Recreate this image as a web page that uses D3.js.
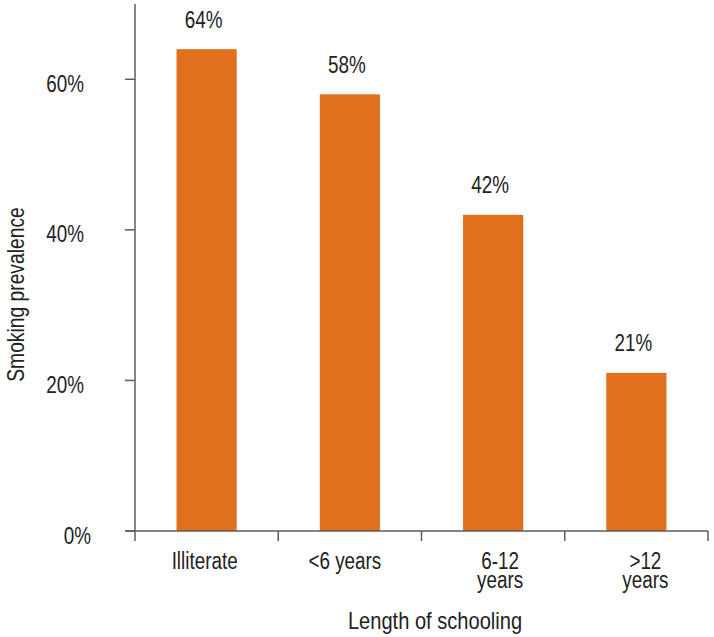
<!DOCTYPE html>
<html>
<head>
<meta charset="utf-8">
<script src="https://cdn.jsdelivr.net/npm/d3@7"></script>
<style>
  html, body { margin: 0; padding: 0; background: #fff; }
  svg { display: block; }
  text { font-family: "Liberation Sans", Arial, Helvetica, sans-serif; fill: #222; }
</style>
</head>
<body>
<svg id="chart" width="714" height="637"></svg>
<script>
// Smoking prevalence by length of schooling
const categories = ["Illiterate", "<6 years", "6-12 years", ">12 years"];
const prevalence = [64, 58, 42, 21];
const categoryLabels = [["Illiterate"], ["<6 years"], ["6-12", "years"], [">12", "years"]];
const yTicks = [0, 20, 40, 60];

const plotLeft = 135, plotRight = 708, plotTop = 4, plotBottom = 531;
const barColor = "#E06F1E";
const axisColor = "#5c5c5c";
const labelShift = [-2, -5, 7, 9];
const narrow = 0.82; // condensed lettering

const svg = d3.select("#chart");

const x = d3.scaleBand().domain(categories).range([plotLeft, plotRight]).padding(0);
const y = d3.scaleLinear().domain([0, 70]).range([plotBottom, plotTop]);
const barW = x.bandwidth() * 0.42;
const center = i => x(categories[i]) + x.bandwidth() / 2;
const place = (px, py) => `translate(${px},${py}) scale(${narrow},1)`;

// bars
svg.append("g").selectAll("rect")
  .data(prevalence)
  .join("rect")
  .attr("x", (d, i) => center(i) - barW / 2)
  .attr("y", d => y(d))
  .attr("width", barW)
  .attr("height", d => y(0) - y(d))
  .attr("fill", barColor);

// value labels above bars
svg.append("g").selectAll("text")
  .data(prevalence)
  .join("text")
  .attr("transform", (d, i) => place(center(i) - 3, y(d) - 21.5))
  .attr("text-anchor", "middle")
  .style("font-size", "23px")
  .text(d => d + "%");

// y axis
const yAxis = svg.append("g").attr("transform", `translate(${plotLeft},0)`);
yAxis.append("line")
  .attr("x1", 0).attr("x2", 0)
  .attr("y1", y.range()[1]).attr("y2", plotBottom)
  .attr("stroke", axisColor).attr("stroke-width", 1.5);
yAxis.selectAll("line.tick")
  .data(yTicks)
  .join("line")
  .attr("class", "tick")
  .attr("x1", -10).attr("x2", 0)
  .attr("y1", d => y(d)).attr("y2", d => y(d))
  .attr("stroke", axisColor).attr("stroke-width", 1.5);
yAxis.selectAll("text")
  .data(yTicks)
  .join("text")
  .attr("transform", d => place(d === 0 ? -44 : -51, y(d) + 12.5))
  .attr("text-anchor", "end")
  .style("font-size", "23px")
  .text(d => d + "%");

// x axis
const xAxis = svg.append("g");
xAxis.append("line")
  .attr("x1", plotLeft - 10).attr("x2", plotRight)
  .attr("y1", plotBottom).attr("y2", plotBottom)
  .attr("stroke", axisColor).attr("stroke-width", 1.5);
const boundaries = categories.map(c => x(c)).concat([x.range()[1]]);
xAxis.selectAll("line.tick")
  .data(boundaries)
  .join("line")
  .attr("class", "tick")
  .attr("x1", d => d).attr("x2", d => d)
  .attr("y1", plotBottom).attr("y2", plotBottom + 10)
  .attr("stroke", axisColor).attr("stroke-width", 1.5);
const xl = xAxis.selectAll("text.cat")
  .data(categoryLabels)
  .join("text")
  .attr("class", "cat")
  .attr("text-anchor", "middle")
  .attr("transform", (d, i) => place(center(i) + labelShift[i], plotBottom + 38))
  .style("font-size", "23px");
xl.selectAll("tspan")
  .data(d => d)
  .join("tspan")
  .attr("x", 0)
  .attr("dy", (d, j) => j === 0 ? 0 : 18.5)
  .text(d => d);

// axis titles
svg.append("text")
  .attr("transform", place(435, 629))
  .attr("text-anchor", "middle")
  .style("font-size", "24.5px")
  .text("Length of schooling");

svg.append("text")
  .attr("transform", `translate(24,294.5) rotate(-90) scale(${narrow},1)`)
  .attr("text-anchor", "middle")
  .style("font-size", "23.5px")
  .text("Smoking prevalence");
</script>
</body>
</html>
